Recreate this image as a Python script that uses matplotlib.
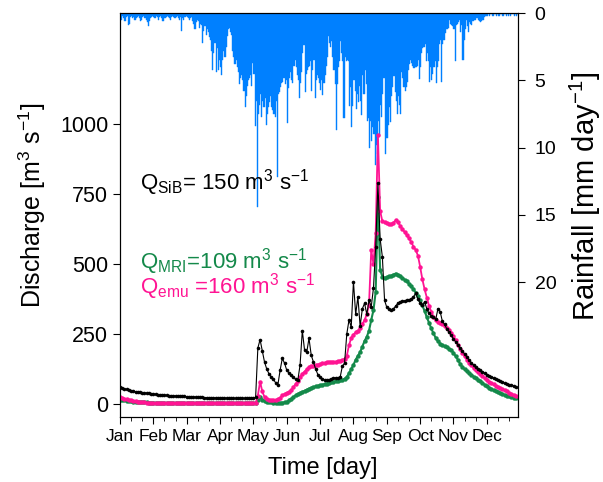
import numpy as np
import matplotlib
matplotlib.use('Agg')
import matplotlib.pyplot as plt
from matplotlib.ticker import MultipleLocator

plt.rcParams['font.family'] = ['Liberation Sans', 'DejaVu Sans']
plt.rcParams['mathtext.default'] = 'regular'

months = ['Jan', 'Feb', 'Mar', 'Apr', 'May', 'Jun',
          'Jul', 'Aug', 'Sep', 'Oct', 'Nov', 'Dec']

# daily rainfall [mm/day], one row per month (30 days, last row 28)
rain = [
    0.3, 0.5, 0.2, 0.4, 0.6, 0.3, 0.2, 0.9, 0.8, 0.3, 0.2, 0.4, 0.3, 0.5, 0.4, 0.3, 0.2, 0.4, 0.6, 0.5, 0.3, 0.2, 0.4, 0.5, 0.7, 1.0, 0.6, 0.4, 0.3, 0.2,
    0.3, 0.4, 0.2, 0.3, 0.5, 0.3, 0.2, 0.4, 0.6, 0.6, 0.4, 0.3, 0.2, 0.3, 0.4, 0.5, 0.3, 0.2, 0.3, 0.4, 0.3, 0.2, 0.4, 0.5, 0.3, 1.3, 0.4, 0.5, 0.3, 0.2,
    0.3, 0.4, 0.5, 0.4, 0.3, 0.6, 0.8, 1.2, 0.7, 0.5, 0.6, 1.1, 0.8, 0.9, 2.2, 1.3, 1.0, 1.6, 1.2, 1.4, 1.8, 2.0, 2.8, 4.2, 3.0, 2.2, 4.4, 2.6, 4.2, 3.5,
    4.0, 4.6, 3.5, 2.8, 3.3, 2.5, 1.7, 1.2, 1.1, 1.4, 1.6, 2.8, 3.3, 3.8, 3.5, 4.0, 4.4, 5.3, 4.8, 4.6, 5.0, 5.8, 7.0, 6.2, 5.4, 5.0, 4.8, 4.6, 5.4, 3.7,
    4.5, 8.4, 6.5, 14.4, 7.5, 6.8, 6.0, 7.7, 6.5, 7.0, 6.3, 8.3, 7.5, 7.0, 6.6, 6.2, 7.0, 7.2, 7.5, 7.7, 6.5, 12.2, 6.0, 5.9, 5.5, 5.2, 5.1, 4.8, 5.3, 5.0,
    8.2, 5.6, 4.8, 4.4, 5.0, 5.2, 3.9, 3.5, 4.0, 4.6, 5.0, 6.3, 5.2, 4.4, 3.0, 2.4, 5.9, 4.5, 4.2, 4.0, 3.9, 3.6, 5.8, 4.2, 3.5, 6.3, 5.0, 4.6, 4.8, 5.2,
    5.7, 5.0, 6.1, 5.2, 4.6, 3.9, 3.3, 1.7, 2.2, 2.5, 2.1, 3.3, 4.2, 5.3, 8.7, 5.3, 4.0, 3.6, 2.1, 3.0, 3.6, 7.8, 3.3, 3.6, 3.5, 3.6, 6.9, 5.5, 8.5, 6.9,
    5.0, 5.8, 7.1, 6.0, 6.6, 5.4, 6.5, 7.6, 4.6, 6.0, 4.2, 5.3, 8.0, 7.8, 10.0, 8.0, 9.5, 8.5, 9.0, 11.3, 9.8, 10.5, 8.0, 9.1, 6.8, 7.7, 6.0, 4.8, 10.5, 9.3,
    9.3, 8.3, 7.0, 8.1, 6.2, 5.5, 4.7, 5.9, 6.5, 7.5, 6.2, 6.8, 7.5, 4.4, 4.8, 5.5, 5.8, 5.5, 5.1, 4.2, 3.8, 3.5, 3.7, 3.9, 4.1, 4.0, 4.0, 3.9, 3.5, 4.9,
    4.0, 3.0, 2.6, 2.5, 2.3, 3.6, 3.0, 3.6, 5.1, 4.0, 5.0, 4.5, 4.0, 3.6, 5.2, 4.0, 3.6, 2.3, 2.0, 5.1, 2.3, 2.0, 1.5, 1.2, 1.2, 1.1, 0.5, 0.8, 0.9, 1.0,
    1.2, 3.6, 0.9, 0.8, 0.7, 0.5, 1.4, 0.9, 3.5, 2.0, 1.2, 0.5, 1.0, 1.4, 0.7, 0.8, 0.9, 0.6, 0.5, 0.5, 0.4, 0.4, 0.5, 0.6, 0.7, 0.6, 0.5, 0.3, 0.2, 0.2,
    0.2, 0.1, 0.2, 0.1, 0.1, 0.2, 0.1, 0.1, 0.2, 0.1, 0.2, 0.2, 0.1, 0.1, 0.2, 0.1, 0.1, 0.2, 0.1, 0.2, 0.1, 0.2, 0.1, 0.1, 0.2, 0.1, 0.2, 0.1,
]

# discharge [m3/s], every 2nd day from day 0 to day 356
q_sib = [
    60, 57, 54, 52, 50, 48, 46, 44, 43, 42, 41, 40, 39, 38, 37, 36, 35, 34, 33, 33,
    32, 31, 30, 30, 29, 29, 28, 28, 27, 27, 26, 26, 25, 25, 25, 24, 24, 24, 23, 23,
    23, 22, 22, 22, 22, 21, 21, 21, 21, 20, 20, 20, 20, 20, 20, 20, 20, 21, 21, 21,
    22, 24, 200, 230, 190, 150, 125, 108, 97, 88, 76, 68, 120, 163, 146, 121, 110, 102, 95, 88,
    86, 140, 262, 193, 185, 235, 175, 150, 125, 105, 95, 88, 86, 86, 86, 90, 93, 93, 93, 95,
    135, 146, 250, 300, 275, 437, 320, 383, 278, 340, 360, 320, 371, 347, 414, 560, 788, 590, 526, 370,
    345, 338, 336, 340, 350, 360, 365, 368, 368, 370, 372, 375, 383, 395, 375, 360, 354, 365, 340, 324,
    315, 312, 302, 340, 330, 295, 285, 268, 258, 245, 232, 222, 210, 200, 190, 178, 168, 158, 148, 140,
    133, 126, 121, 116, 110, 105, 101, 97, 93, 89, 85, 81, 78, 75, 72, 69, 67, 65, 62,
]
q_mri = [
    15, 14, 13, 12, 11, 10, 9, 8, 8, 7, 7, 6, 6, 5, 5, 5, 4, 4, 4, 4,
    3, 3, 3, 3, 3, 3, 3, 3, 3, 3, 3, 3, 3, 3, 3, 3, 3, 3, 3, 3,
    3, 3, 3, 3, 3, 3, 3, 3, 3, 3, 3, 3, 3, 3, 3, 3, 3, 3, 3, 3,
    3, 3, 15, 26, 15, 12, 9, 7, 6, 5, 4, 4, 4, 5, 6, 8, 13, 19, 25, 31,
    36, 40, 44, 47, 51, 55, 58, 61, 63, 65, 67, 69, 71, 73, 75, 77, 79, 81, 83, 85,
    86, 90, 97, 110, 125, 140, 158, 172, 185, 205, 225, 240, 262, 300, 335, 400, 740, 480, 455, 450,
    453, 456, 458, 462, 466, 462, 456, 450, 444, 438, 430, 420, 410, 398, 385, 370, 352, 332, 310, 290,
    270, 252, 236, 224, 216, 210, 206, 202, 197, 192, 183, 170, 158, 143, 132, 124, 117, 110, 104, 98,
    92, 86, 81, 75, 69, 63, 58, 53, 49, 46, 42, 39, 36, 32, 29, 27, 25, 22, 20,
]
q_emu = [
    25, 22, 19, 17, 15, 13, 11, 10, 9, 8, 7, 6, 5, 5, 4, 4, 3, 3, 3, 2,
    2, 2, 2, 2, 2, 2, 2, 2, 2, 2, 2, 2, 2, 2, 2, 2, 2, 2, 2, 2,
    2, 2, 2, 2, 2, 2, 2, 2, 2, 2, 2, 2, 2, 2, 2, 2, 2, 2, 2, 2,
    2, 2, 30, 80, 45, 25, 18, 15, 14, 14, 14, 17, 22, 32, 36, 40, 44, 50, 60, 72,
    82, 97, 108, 116, 124, 132, 135, 137, 139, 141, 143, 145, 147, 149, 151, 151, 151, 151, 153, 155,
    157, 162, 172, 210, 236, 248, 256, 262, 270, 285, 300, 320, 355, 550, 500, 610, 960, 690, 652, 650,
    647, 644, 643, 648, 656, 650, 636, 625, 614, 603, 592, 578, 562, 550, 530, 490, 445, 410, 380, 350,
    330, 312, 300, 292, 290, 285, 280, 272, 264, 255, 242, 228, 212, 197, 183, 170, 158, 148, 138, 129,
    121, 113, 106, 99, 92, 85, 80, 75, 70, 66, 61, 57, 53, 49, 45, 41, 37, 33, 29,
]

q_days = np.arange(0, 2 * len(q_sib), 2)
rain_days = np.arange(len(rain))

fig, ax = plt.subplots(figsize=(6.03, 4.82), dpi=100)
fig.subplots_adjust(left=0.199, right=0.859, bottom=0.135, top=0.973)
ax2 = ax.twinx()

# rainfall hanging from the top
ax2.bar(rain_days, rain, width=1.0, align='edge', color='#0080FF',
        edgecolor='#0080FF', linewidth=0.3)
ax2.set_ylim(30, 0)
ax2.set_yticks([0, 5, 10, 15, 20])
ax2.set_ylabel('Rainfall [mm day$^{-1}$]', fontsize=21)
ax2.yaxis.set_label_coords(1.125, 0.545)

# discharge on top of rainfall
ax.set_zorder(ax2.get_zorder() + 1)
ax.patch.set_visible(False)
ax.plot(q_days, q_mri, '-', color='#14894A', lw=1.5, marker='o', ms=3.2, mec='none')
ax.plot(q_days, q_emu, '-', color='#FF1493', lw=1.3, marker='o', ms=3.2, mec='none')
ax.plot(q_days, q_sib, '-', color='black', lw=0.8, marker='o', ms=2.6, mec='none')

ax.set_xlim(0, 358)
ax.set_ylim(-46, 1396)
ax.set_yticks([0, 250, 500, 750, 1000])
ax.set_xticks(np.arange(0, 360, 30))
ax.set_xticklabels(months)
ax.xaxis.set_minor_locator(MultipleLocator(10))
ax.set_ylabel('Discharge [m$^3$ s$^{-1}$]', fontsize=18)
ax.yaxis.set_label_coords(-0.18, 0.525)
ax.set_xlabel('Time [day]', fontsize=17)
ax.xaxis.set_label_coords(0.51, -0.098)

ax.text(18, 790, 'Q$_{SiB}$= 150 m$^3$ s$^{-1}$', fontsize=16, color='black', va='center')
ax.text(18, 510, 'Q$_{MRI}$=109 m$^3$ s$^{-1}$', fontsize=16, color='#14894A', va='center')
ax.text(18, 420, 'Q$_{emu}$ =160 m$^3$ s$^{-1}$', fontsize=16, color='#FF1493', va='center')

ax.tick_params(axis='y', which='major', length=5, labelsize=15.5)
ax.tick_params(axis='x', which='major', length=5, labelsize=12.5)
ax.tick_params(axis='x', which='minor', length=3)
ax2.tick_params(axis='y', length=5, labelsize=14, pad=7)

plt.savefig('out.png', dpi=100)
